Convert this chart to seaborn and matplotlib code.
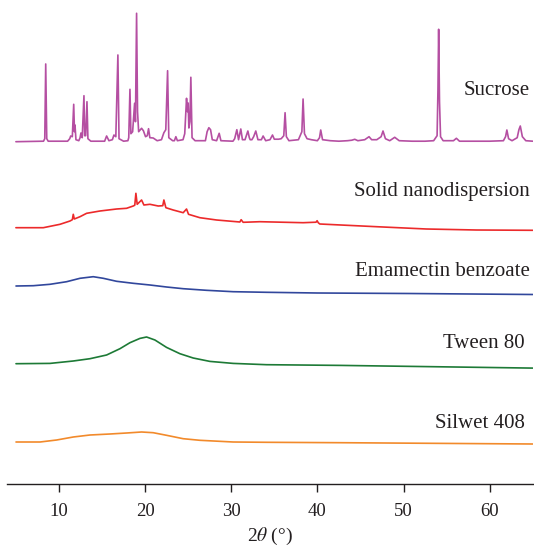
import numpy as np
import pandas as pd
import seaborn as sns
import matplotlib
matplotlib.use("Agg")
import matplotlib.pyplot as plt

# XRD patterns: 2theta (deg) and intensity (a.u.) relative to each trace's start
sucrose_2theta = [5.0, 8.2, 8.35, 8.46, 8.58, 8.75, 11.0, 11.25, 11.36, 11.55, 11.71, 11.8, 11.86, 11.97,
                  12.3, 12.45, 12.55, 12.7, 12.9, 12.98, 13.1, 13.25, 13.36, 13.7, 15.3, 15.53, 15.8, 16.2,
                  16.38, 16.6, 16.84, 16.97, 17.5, 18.0, 18.1, 18.24, 18.35, 18.55, 18.78, 18.88, 19.01,
                  19.12, 19.25, 19.45, 19.59, 19.8, 20.05, 20.25, 20.4, 20.55, 20.94, 21.4, 21.9, 22.18,
                  22.4, 22.61, 22.75, 23.2, 23.4, 23.57, 23.75, 24.4, 24.6, 24.81, 24.92, 25.0, 25.08,
                  25.2, 25.31, 25.45, 25.8, 27.0, 27.2, 27.4, 27.6, 27.8, 28.3, 28.6, 28.8, 30.2, 30.4,
                  30.65, 30.85, 31.11, 31.3, 31.6, 31.93, 32.1, 32.2, 32.4, 32.6, 32.85, 33.1, 33.5, 33.7,
                  34.0, 34.5, 34.79, 35.0, 35.5, 35.8, 36.1, 36.25, 36.4, 36.7, 37.8, 38.2, 38.34, 38.5,
                  38.8, 39.3, 40.0, 40.25, 40.39, 40.6, 41.5, 42.5, 43.5, 44.0, 44.34, 44.7, 45.5, 46.0,
                  46.3, 46.9, 47.4, 47.62, 47.9, 48.4, 48.98, 49.5, 51.0, 52.5, 53.5, 53.9, 54.0, 54.08,
                  54.18, 54.3, 54.6, 55.8, 56.14, 56.5, 58.0, 60.0, 61.6, 61.85, 62.0, 62.2, 62.6, 63.2,
                  63.4, 63.56, 63.8, 64.2, 65.0]
sucrose_int = [0, 0.5, 3, 77.7, 3, 0.5, 0.5, 3, 5.7, 5, 37.4, 10, 16.7, 2,
               1, 4, 8.7, 4, 46, 6, 6, 40, 3, 0.5, 0.5, 5.7, 1, 2,
               6.7, 5, 86.7, 3, 0.5, 1, 4, 52.4, 8, 10, 38.4, 20, 128.4,
               30, 10, 12, 13.4, 11, 5, 6, 13, 4, 3.7, 1, 2, 9,
               12, 71, 4, 1, 1, 5, 1, 2, 8, 43.4, 30, 38.7, 13.7,
               20, 64.4, 4, 1, 1, 10, 14, 12, 2, 1, 8.4, 1, 0.5, 3,
               12, 2, 12.7, 2, 2, 10.7, 4, 2, 2, 5, 10.7, 2, 2, 5.7,
               1, 2, 6.7, 2.5, 2.5, 3, 6, 29, 5, 1, 2, 10, 42.7, 8,
               3, 2, 1, 4, 11.7, 2, 1, 0.5, 1, 1.5, 2.4, 1, 2, 5,
               2, 2, 5, 10.7, 3, 1, 4.4, 1, 0.5, 0.5, 1, 6, 51.7, 112.4,
               40, 5, 1, 1, 3.4, 0.5, 0.5, 0.5, 1, 5, 11.7, 3, 1, 4,
               12, 15.7, 5, 1, 0.5]

nano_2theta = [5.0, 8.18, 10.12, 11.28, 11.55, 11.66, 11.78, 12.44, 13.21, 14.76, 16.69, 17.85, 18.62,
               18.8, 18.93, 19.08, 19.59, 19.86, 20.56, 21.52, 22.05, 22.18, 22.41, 23.26, 24.42, 24.81,
               25.04, 26.36, 28.3, 30.6, 31.0, 31.15, 31.38, 33.32, 38.34, 39.85, 39.97, 40.1, 40.28,
               46.86, 52.66, 58.46, 65.0]
nano_int = [0, 0, 3.4, 6.7, 8.0, 13.4, 8.7, 11.0, 14.4, 16.7, 18.7, 19.4, 21.7,
            22.5, 34.4, 23.4, 27.7, 22.7, 23.4, 21.7, 22.0, 27.7, 20.0, 17.7, 15.0, 18.7,
            13.4, 10.0, 7.7, 6.0, 5.7, 8.0, 5.4, 6.0, 5.0, 5.5, 7.0, 5.0, 3.7,
            1.0, -1.3, -2.3, -2.6]

emamectin_2theta = [5.01, 7.02, 8.96, 10.89, 12.44, 13.98, 15.14, 16.69, 18.62, 20.56, 22.49, 24.42,
                    27.13, 30.22, 34.1, 40.0, 50.6, 65.0]
emamectin_int = [0, 0.3, 1.7, 4.3, 7.7, 9.3, 7.7, 4.7, 2.7, 1.0, -1.0, -2.7,
                 -4.3, -5.7, -6.3, -7.0, -7.5, -8.5]

tween_2theta = [5.01, 8.96, 11.66, 13.6, 15.53, 17.08, 18.24, 19.4, 20.17, 21.14, 22.49, 24.04,
                25.58, 27.52, 30.22, 34.1, 42.7, 65.0]
tween_int = [0, 0.3, 2.7, 5.0, 8.7, 15.0, 21.0, 25.3, 26.7, 23.7, 16.3, 10.0,
             5.7, 2.3, 0.3, -1.0, -1.7, -4.4]

silwet_2theta = [5.01, 7.8, 9.73, 11.66, 13.6, 15.92, 17.85, 19.59, 20.94, 22.49, 24.42, 26.36,
                 30.22, 34.1, 42.7, 65.0]
silwet_int = [0, 0, 2.0, 5.0, 7.0, 8.0, 9.0, 10.0, 9.3, 6.7, 3.3, 1.7,
              0, -0.3, -0.7, -2.0]

samples = ["Sucrose", "Solid nanodispersion", "Emamectin benzoate", "Tween 80", "Silwet 408"]

# stacking offsets and label placement (layout, not data)
offsets = [342.3, 256.3, 198.0, 120.3, 42.0]
label_y = [394, 292.3, 212.9, 140.3, 60.3]
label_x = [64.7, 64.7, 64.7, 64.1, 64.1]
colors = ["#B54FA2", "#EC2A2B", "#31479C", "#1D7A36", "#F28A2B"]

curves = [
    (sucrose_2theta, sucrose_int),
    (nano_2theta, nano_int),
    (emamectin_2theta, emamectin_int),
    (tween_2theta, tween_int),
    (silwet_2theta, silwet_int),
]

frames = []
for name, (tt, inten), off in zip(samples, curves, offsets):
    frames.append(pd.DataFrame({"two_theta": tt,
                                "intensity": np.array(inten) + off,
                                "sample": name}))
df = pd.concat(frames, ignore_index=True)

sns.set_style("ticks")
plt.rcParams["font.family"] = ["Liberation Serif", "DejaVu Serif"]
plt.rcParams["mathtext.fontset"] = "stix"

fig = plt.figure(figsize=(5.34, 5.52), dpi=100)
ax = fig.add_axes([7.3 / 534, 68 / 552, 525.4 / 534, 479 / 552])

sns.lineplot(data=df, x="two_theta", y="intensity", hue="sample", hue_order=samples,
             palette=colors, estimator=None, sort=False, linewidth=1.2, legend=False, ax=ax)

for name, x, y in zip(samples, label_x, label_y):
    ax.text(x, y, name, ha="right", va="center", fontsize=15, color="#231F20")

ax.set_xlim(4, 65)
ax.set_ylim(0, 479)
ax.set_xticks([10, 20, 30, 40, 50, 60])
ax.set_yticks([])
ax.set_ylabel("")
ax.set_xlabel(r"2$\theta$ (°)", fontsize=14, color="#231F20", labelpad=4)
ax.tick_params(axis="x", direction="out", length=6, width=1, colors="#231F20",
               labelsize=13.5, pad=8)
for side in ["left", "top", "right"]:
    ax.spines[side].set_visible(False)
ax.spines["bottom"].set_linewidth(1)
ax.spines["bottom"].set_color("#231F20")
ax.patch.set_alpha(0)

fig.savefig("out.png", dpi=100)
